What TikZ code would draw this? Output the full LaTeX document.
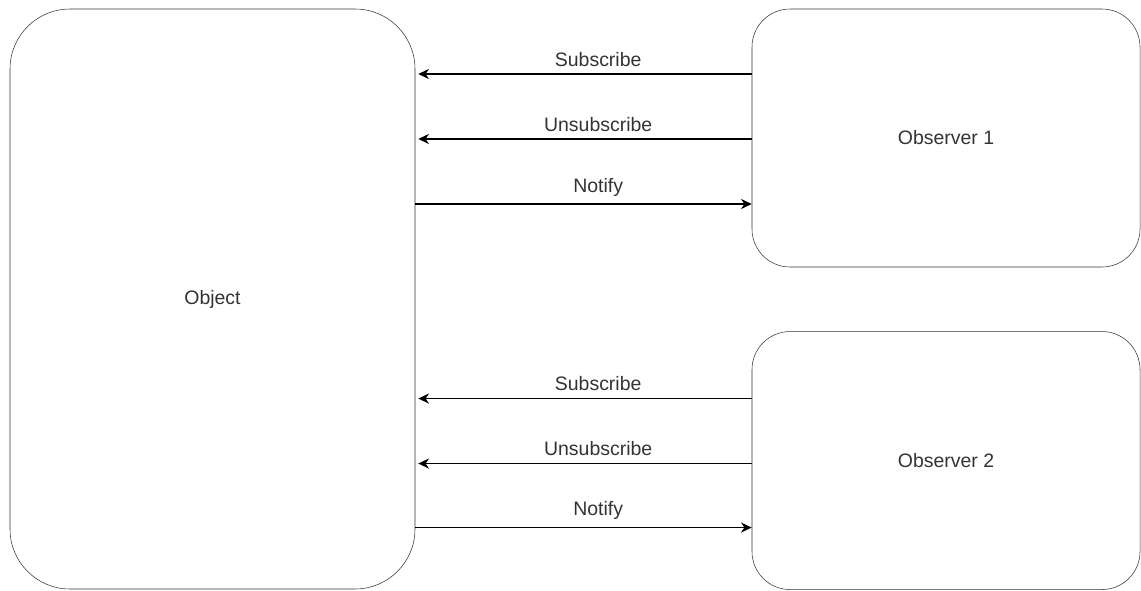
\documentclass[tikz,border=0pt]{standalone}
\usepackage{fontspec}
\setmainfont{Liberation Sans}
\usepackage{xcolor}
\definecolor{Box Grey}{HTML}{333333}
\definecolor{Text Grey}{HTML}{333333}
\colorlet{cLine}{Box Grey}
\colorlet{cText}{Text Grey}
\usetikzlibrary{arrows.meta, positioning}
\tikzset{
	x=0.75pt,
	y=-0.75pt,
	line width=1.3pt,
	>={Stealth[length=8pt, width=7.5pt, inset=2.5pt]},
	font=\fontsize{14.6}{17}\selectfont,
	block/.style={
		draw=cLine,
		text=cText,
		inner sep=0pt,
		minimum width=291pt,
		minimum height=193.5pt,
		rounded corners=28.5pt
	},
	msg/.style={
		->,
		line width=1.3pt
	},
	back/.style={
		msg,
		shorten >=2.25pt
	},
	tag/.style={
		above,
		xshift=11pt,
		yshift=3pt,
		text=cText,
		inner sep=2pt
	}
}

\begin{document}
\begin{tikzpicture}
	\useasboundingbox (0,0) rectangle (1141,590);

	\node (obj) [block, minimum width=303.75pt, minimum height=435pt, rounded corners=45pt] at (212.5,299) {Object};
	\node (obs1) [block] at (946,138) {Observer 1};
	\node (obs2) [block, below=48pt of obs1] {Observer 2};

	% observer 1
	\draw[back] ([yshift=48pt]obs1.west) -- node[tag] {Subscribe} ([yshift=48pt]obs1.west -| obj.east);
	\draw[back] ([yshift=-0.75pt]obs1.west) -- node[tag] {Unsubscribe} ([yshift=-0.75pt]obs1.west -| obj.east);
	\draw[msg] ([yshift=-49.5pt]obs1.west -| obj.east) -- node[tag] {Notify} ([yshift=-49.5pt]obs1.west);

	% observer 2
	\draw[back] ([yshift=46.5pt]obs2.west) -- node[tag] {Subscribe} ([yshift=46.5pt]obs2.west -| obj.east);
	\draw[back] ([yshift=-2.25pt]obs2.west) -- node[tag] {Unsubscribe} ([yshift=-2.25pt]obs2.west -| obj.east);
	\draw[msg] ([yshift=-50.25pt]obs2.west -| obj.east) -- node[tag] {Notify} ([yshift=-50.25pt]obs2.west);
\end{tikzpicture}
\end{document}
